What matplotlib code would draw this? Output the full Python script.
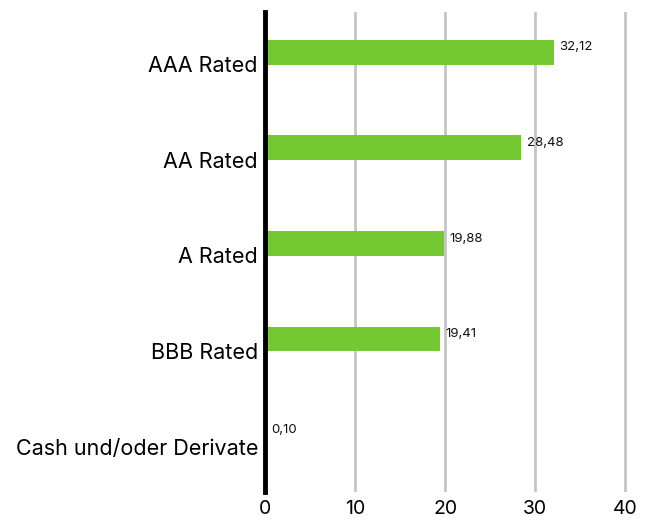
import matplotlib.pyplot as plt
from matplotlib.transforms import ScaledTranslation

categories = ["AAA Rated", "AA Rated", "A Rated", "BBB Rated", "Cash und/oder Derivate"]
values = [32.12, 28.48, 19.88, 19.41, 0.10]
ticks = [0, 10, 20, 30, 40]

plt.rcParams["font.family"] = ["Inter", "DejaVu Sans"]

fig = plt.figure(figsize=(6.53, 5.21), dpi=100)
ax = fig.add_axes([265 / 653, 29 / 521, 380 / 653, 480 / 521])

ypos = list(range(len(categories)))
ax.barh(ypos, values, height=0.26, color="#74c832", zorder=3)

for y, v in zip(ypos, values):
    ax.text(v + 0.6, y - 0.05, f"{v:.2f}".replace(".", ","),
            fontsize=9.5, va="center", ha="left", color="#111111")

ax.set_ylim(4.6, -0.42)
ax.set_xlim(0, 42.2)
ax.set_yticks(ypos)
ax.set_yticklabels([])
ax.set_xticks(ticks)
ax.set_xticklabels([str(t) for t in ticks], fontsize=14)

# category labels drawn by hand, nudged a little below the bar centres
shift = ScaledTranslation(-0.07, -0.14, fig.dpi_scale_trans)
for y, name in zip(ypos, categories):
    ax.text(0, y, name, fontsize=15.5, ha="right", va="center",
            transform=ax.get_yaxis_transform() + shift)

ax.grid(axis="x", color="#c4c4c4", linewidth=2, zorder=0)
ax.axvline(0, color="black", linewidth=3.5, zorder=4, clip_on=False)

for s in ax.spines.values():
    s.set_visible(False)
ax.tick_params(length=0)
ax.tick_params(axis="x", pad=6)

fig.savefig("out.png", dpi=100)
